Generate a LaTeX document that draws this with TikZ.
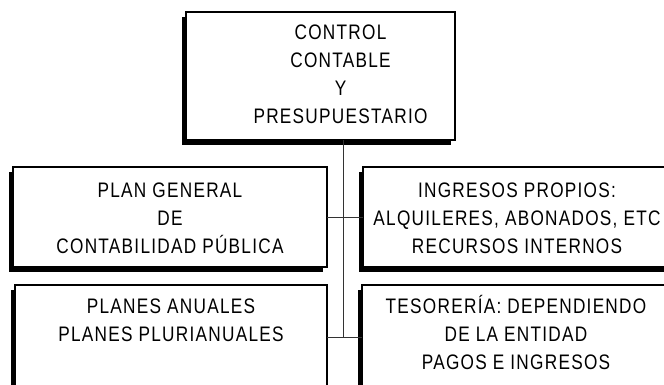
\documentclass[tikz,border=0pt]{standalone}
\usepackage{fontspec}
\setmainfont{Liberation Sans}[FakeStretch=0.82, LetterSpace=6]
\usetikzlibrary{shadows}
\newcommand{\boxtext}[5]{\parbox[t][#2][t]{#1}{\centering\leftskip=#5 plus 1fil\fontsize{21}{28}\selectfont\rule{0pt}{#3}#4}}
\begin{document}
\begin{tikzpicture}[x=1pt,y=-1pt,
  box/.style={draw=black, line width=1.2pt, fill=white, inner sep=0pt, outer sep=0pt, anchor=north west,
    general shadow={fill=black, shadow xshift=-4pt, shadow yshift=-5pt}},
  link/.style={draw=black!80, line width=0.9pt}]
\useasboundingbox (0,0) rectangle (664,385);
\clip (0,0) rectangle (664,385);
\node[box] (T) at (186,12) {\boxtext{269pt}{128pt}{28pt}{CONTROL\\CONTABLE\\Y\\PRESUPUESTARIO}{40pt}};
\node[box] (ML) at (13,167) {\boxtext{314pt}{100pt}{30pt}{PLAN GENERAL\\DE\\CONTABILIDAD PÚBLICA}{0pt}};
\node[box] (MR) at (363,167) {\boxtext{308pt}{100pt}{30pt}{INGRESOS PROPIOS:\\ALQUILERES, ABONADOS, ETC\\RECURSOS INTERNOS}{0pt}};
\node[box] (BL) at (15,285) {\boxtext{312pt}{150pt}{28pt}{PLANES ANUALES\\PLANES PLURIANUALES}{0pt}};
\node[box] (BR) at (362,285) {\boxtext{308pt}{150pt}{28pt}{TESORERÍA: DEPENDIENDO\\DE LA ENTIDAD\\PAGOS E INGRESOS}{0pt}};
\coordinate (j1) at (343,217);
\coordinate (j2) at (343,337);
\draw[link] (T.south -| j1) -- (j2);
\draw[link] (ML.east |- j1) -- (MR.west |- j1);
\draw[link] (BL.east |- j2) -- (BR.west |- j2);
\end{tikzpicture}
\end{document}
